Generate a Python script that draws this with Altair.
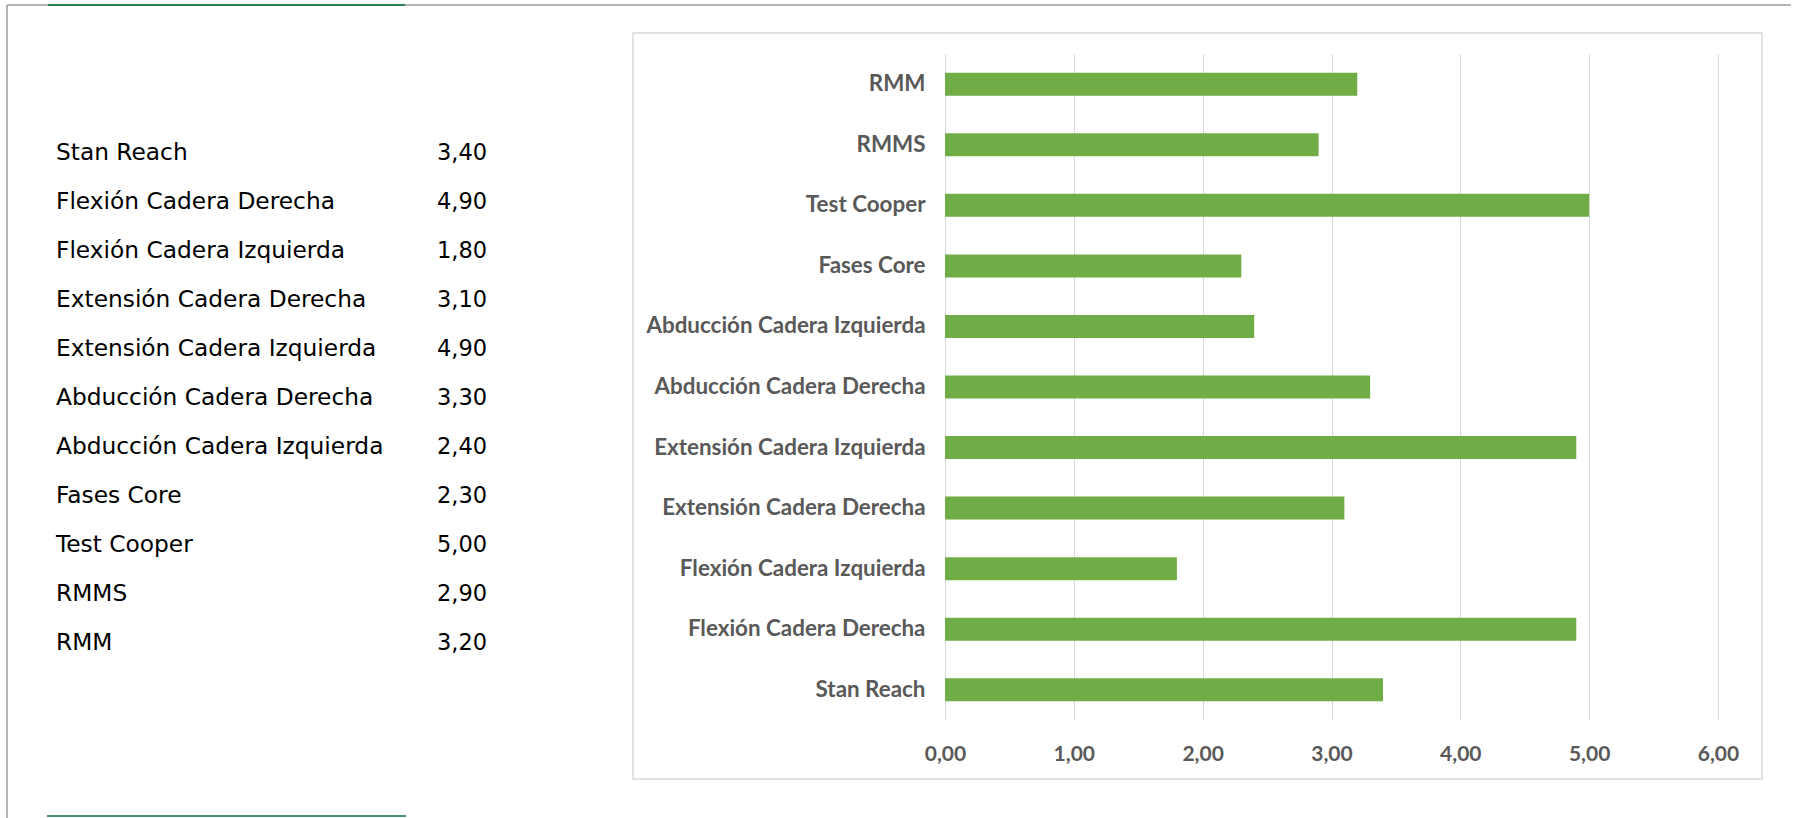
import altair as alt
import pandas as pd

# ---- data ----
categories = ["Stan Reach", "Flexión Cadera Derecha", "Flexión Cadera Izquierda",
              "Extensión Cadera Derecha", "Extensión Cadera Izquierda",
              "Abducción Cadera Derecha", "Abducción Cadera Izquierda",
              "Fases Core", "Test Cooper", "RMMS", "RMM"]
values = [3.40, 4.90, 1.80, 3.10, 4.90, 3.30, 2.40, 2.30, 5.00, 2.90, 3.20]
x_ticks = [0, 1, 2, 3, 4, 5, 6]

bars_df = pd.DataFrame({"cat": categories, "val": values})

table_rows = []
for c, v in zip(categories, values):
    table_rows.append({"cat": c, "col": "label", "txt": c})
    table_rows.append({"cat": c, "col": "value", "txt": f"{v:.2f}".replace(".", ",")})
table_df = pd.DataFrame(table_rows)

one = pd.DataFrame({"d": [0]})

LABEL_GREY = "#595959"
GRID = "#D9D9D9"
FRAME = "#9C9C9C"
GREEN_LINE = "#2E7D50"

# ---- bars ----
bars = alt.Chart(bars_df).mark_bar(color="#70AD47").encode(
    x=alt.X("val:Q",
            scale=alt.Scale(domain=[0, 6], nice=False),
            axis=alt.Axis(values=x_ticks, title=None, domain=False, ticks=False,
                          grid=True, gridColor=GRID, gridWidth=1, labelFlush=False,
                          labelExpr="replace(format(datum.value, '.2f'), '.', ',')",
                          labelFont="Lato", labelFontWeight="bold", labelFontSize=21,
                          labelColor=LABEL_GREY, labelPadding=23)),
    y=alt.Y("cat:N", sort=categories[::-1],
            scale=alt.Scale(paddingInner=0.62, paddingOuter=0.31),
            axis=alt.Axis(title=None, domain=False, ticks=False, grid=False,
                          labelFont="Lato", labelFontWeight="bold", labelFontSize=22.4,
                          labelColor=LABEL_GREY, labelPadding=20, labelLimit=400)),
)

# ---- left table ----
table = alt.Chart(table_df).mark_text(
    align="left", baseline="middle", font="DejaVu Sans", color="#000000"
).encode(
    x=alt.X("col:N", scale=alt.Scale(type="point", domain=["label", "value"],
                                     range=[-889, -508], padding=0), axis=None),
    y=alt.Y("cat:N", scale=alt.Scale(type="point", domain=categories,
                                     range=[99, 589], padding=0), axis=None),
    size=alt.condition(alt.datum.col == "label", alt.value(23.3), alt.value(22.5)),
    text="txt:N",
)

# ---- decorations (frame, chart box, green lines) ----
chart_box = alt.Chart(one).mark_rect(fill="transparent", stroke=GRID, strokeWidth=1.5).encode(
    x=alt.value(-312), x2=alt.value(817), y=alt.value(-21), y2=alt.value(725))
frame_top = alt.Chart(one).mark_rule(color=FRAME, strokeWidth=1.5).encode(
    x=alt.value(-938), x2=alt.value(846), y=alt.value(-49))
frame_left = alt.Chart(one).mark_rule(color=FRAME, strokeWidth=1.5).encode(
    x=alt.value(-938), y=alt.value(-49), y2=alt.value(764))
green_top = alt.Chart(one).mark_rule(color=GREEN_LINE, strokeWidth=2).encode(
    x=alt.value(-897), x2=alt.value(-540), y=alt.value(-49))
green_bottom = alt.Chart(one).mark_rule(color="#4A8F6A", strokeWidth=2).encode(
    x=alt.value(-898), x2=alt.value(-539), y=alt.value(762))

chart = alt.layer(
    chart_box, bars, table, frame_top, frame_left, green_top, green_bottom
).resolve_scale(
    x="independent", y="independent"
).properties(
    width=773, height=666,
    autosize=alt.AutoSizeParams(type="none"),
    padding={"left": 945, "top": 54, "right": 78, "bottom": 98},
    background="white",
).configure_view(strokeWidth=0)

chart.save("out.html", embed_options={"renderer": "svg", "actions": False})
